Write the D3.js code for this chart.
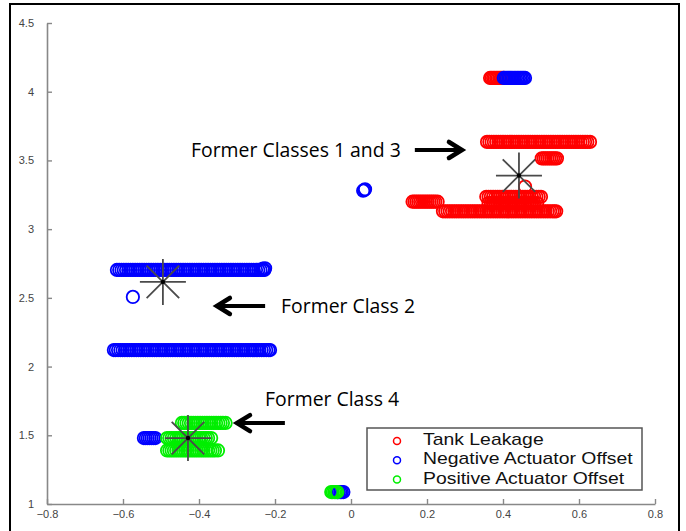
<!DOCTYPE html>
<html><head><meta charset="utf-8">
<script src="https://cdn.jsdelivr.net/npm/d3@7"></script>
<style>
html,body{margin:0;padding:0;background:#fff;}
svg{display:block;}
</style></head>
<body>
<svg id="chart" width="686" height="531"></svg>
<script>
// ---------- data ----------
const seriesNames = ["Tank Leakage", "Negative Actuator Offset", "Positive Actuator Offset"];
const seriesColors = ["#ff0000", "#0000ff", "#00ee00"];

const xTicks = [-0.8, -0.6, -0.4, -0.2, 0, 0.2, 0.4, 0.6, 0.8];
const yTicks = [1, 1.5, 2, 2.5, 3, 3.5, 4, 4.5];

function row(y, xs) { return xs.map(x => [x, y]); }

const tankLeakage = [].concat(
  row(4.10, [0.366,0.370,0.374,0.378,0.382,0.386,0.390,0.394,0.398,0.402]),
  row(3.635,[0.358,0.364,0.370,0.376,0.382,0.388,0.394,0.400,0.406,0.412,0.418,0.424,0.430,0.436,0.442,0.448,0.454,0.460,0.466,0.472,0.478,0.484,0.490,0.496,0.502,0.508,0.514,0.520,0.526,0.532,0.538,0.544,0.550,0.556,0.562,0.568,0.574,0.580,0.586,0.592,0.598,0.604,0.610,0.616,0.622,0.629]),
  row(3.515,[0.502,0.507,0.512,0.517,0.522,0.527,0.532,0.537,0.542]),
  row(3.31, [0.458]),
  row(3.20, [0.162,0.167,0.172,0.177,0.182,0.187,0.192,0.197,0.202,0.207,0.212,0.217,0.222,0.228]),
  row(3.235,[0.356,0.362,0.368,0.374,0.380,0.386,0.392,0.398,0.404,0.410,0.416,0.422,0.428,0.434,0.440,0.446,0.452,0.458,0.464,0.470,0.476,0.482,0.488,0.494,0.500]),
  row(3.19, [0.362,0.368,0.374,0.380,0.386,0.392,0.398,0.404,0.410,0.416,0.422,0.428,0.434,0.440,0.446,0.452,0.458,0.464,0.470,0.476,0.482,0.490]),
  row(3.13, [0.242,0.248,0.254,0.260,0.266,0.272,0.278,0.284,0.290,0.296,0.302,0.308,0.314,0.320,0.326,0.332,0.338,0.344,0.350,0.356,0.362,0.368,0.374,0.380,0.386,0.392,0.398,0.404,0.410,0.416,0.422,0.428,0.434,0.440,0.446,0.452,0.458,0.464,0.470,0.476,0.482,0.488,0.494,0.500,0.506,0.512,0.518,0.524,0.530,0.535,0.540])
);

const negativeOffset = [].concat(
  row(4.10, [0.402,0.406,0.410,0.414,0.418,0.422,0.426,0.430,0.434,0.438,0.442,0.446,0.450,0.454,0.458]),
  [[0.032,3.28],[0.035,3.285],[0.037,3.29]],
  row(2.703,[-0.616,-0.610,-0.604,-0.598,-0.592,-0.586,-0.580,-0.574,-0.568,-0.562,-0.556,-0.550,-0.544,-0.538,-0.532,-0.526,-0.520,-0.514,-0.508,-0.502,-0.496,-0.490,-0.484,-0.478,-0.472,-0.466,-0.460,-0.454,-0.448,-0.442,-0.436,-0.430,-0.424,-0.418,-0.412,-0.406,-0.400,-0.394,-0.388,-0.382,-0.376,-0.370,-0.364,-0.358,-0.352,-0.346,-0.340,-0.334,-0.328,-0.322,-0.316,-0.310,-0.304,-0.298,-0.292,-0.286,-0.280,-0.274,-0.268,-0.262,-0.256,-0.250,-0.244,-0.238,-0.232,-0.228]),
  [[-0.226,2.715],[-0.232,2.712]],
  [[-0.574,2.507]],
  row(2.12, [-0.624,-0.619,-0.613,-0.607,-0.601,-0.595,-0.589,-0.583,-0.577,-0.571,-0.565,-0.559,-0.553,-0.547,-0.541,-0.535,-0.529,-0.523,-0.517,-0.511,-0.505,-0.499,-0.493,-0.487,-0.481,-0.475,-0.469,-0.463,-0.457,-0.451,-0.445,-0.439,-0.433,-0.427,-0.421,-0.415,-0.409,-0.403,-0.397,-0.391,-0.385,-0.379,-0.373,-0.367,-0.361,-0.355,-0.349,-0.343,-0.337,-0.331,-0.325,-0.319,-0.313,-0.307,-0.301,-0.295,-0.289,-0.283,-0.277,-0.271,-0.265,-0.259,-0.253,-0.247,-0.241,-0.235,-0.229,-0.223,-0.217,-0.213]),
  row(1.48, [-0.545,-0.540,-0.535,-0.530,-0.525,-0.520,-0.515]),
  row(1.087,[-0.036,-0.032,-0.028,-0.024,-0.020])
);

const positiveOffset = [].concat(
  row(1.59, [-0.445,-0.439,-0.433,-0.427,-0.421,-0.415,-0.409,-0.403,-0.397,-0.391,-0.385,-0.379,-0.373,-0.367,-0.361,-0.355,-0.349,-0.343,-0.337,-0.330]),
  row(1.48, [-0.484,-0.478,-0.472,-0.466,-0.460,-0.454,-0.448,-0.442,-0.436,-0.430,-0.424,-0.418,-0.412,-0.406,-0.400,-0.394,-0.388,-0.382,-0.376,-0.368]),
  row(1.39, [-0.484,-0.478,-0.472,-0.466,-0.460,-0.454,-0.448,-0.442,-0.436,-0.430,-0.424,-0.418,-0.412,-0.406,-0.400,-0.394,-0.388,-0.382,-0.376,-0.370,-0.364,-0.358,-0.350]),
  row(1.087,[-0.052,-0.048,-0.044,-0.040,-0.036])
);

const centroids = [[0.442, 3.39], [-0.495, 2.616], [-0.429, 1.48]];

const annotations = [
  {text: "Former Classes 1 and 3", tx: -0.421, ty: 3.525, ax1: 0.168, ax2: 0.292, ay: 3.576},
  {text: "Former Class 2",         tx: -0.184, ty: 2.39,  ax1: -0.226, ax2: -0.353, ay: 2.441},
  {text: "Former Class 4",         tx: -0.226, ty: 1.713, ax1: -0.174, ax2: -0.300, ay: 1.589}
];

// ---------- drawing ----------
const svg = d3.select("#chart");
svg.append("rect").attr("x",0).attr("y",0).attr("width",686).attr("height",531).attr("fill","#fff");
svg.append("rect").attr("x",10).attr("y",4).attr("width",669).attr("height",540)
   .attr("fill","none").attr("stroke","#000").attr("stroke-width",2);

const x = d3.scaleLinear().domain([-0.8, 0.8]).range([47, 655]);
const y = d3.scaleLinear().domain([1, 4.5]).range([504, 23]);

const gx = svg.append("g").attr("transform", `translate(0,${y(1)})`)
  .call(d3.axisBottom(x).tickValues(xTicks).tickFormat(d3.format("")).tickSizeInner(-5).tickSizeOuter(0).tickPadding(6));
const gy = svg.append("g").attr("transform", `translate(${x(-0.8)},0)`)
  .call(d3.axisLeft(y).tickValues(yTicks).tickFormat(d3.format("")).tickSizeInner(-5).tickSizeOuter(0).tickPadding(13));
[gx, gy].forEach(g => {
  g.select(".domain").attr("stroke", "#888").attr("stroke-width", 1.6);
  g.selectAll(".tick line").attr("stroke", "#888").attr("stroke-width", 1.4);
  g.selectAll(".tick text").attr("fill", "#444").style("font-family", "'Liberation Sans', Arial, sans-serif").style("font-size", "11px");
});

const allSeries = [tankLeakage, negativeOffset, positiveOffset];
allSeries.forEach((pts, i) => {
  svg.append("g").selectAll("circle").data(pts).join("circle")
    .attr("cx", d => x(d[0])).attr("cy", d => y(d[1])).attr("r", 6.2)
    .attr("fill", "none").attr("stroke", seriesColors[i]).attr("stroke-width", 1.8);
});

// centroid stars
const starR = 23;
const starG = svg.append("g");
centroids.forEach(c => {
  const cx = x(c[0]), cy = y(c[1]);
  [0, 45, 90, 135].forEach(a => {
    const r = a * Math.PI / 180;
    starG.append("line")
      .attr("x1", cx - starR * Math.cos(r)).attr("y1", cy - starR * Math.sin(r))
      .attr("x2", cx + starR * Math.cos(r)).attr("y2", cy + starR * Math.sin(r))
      .attr("stroke", "#4a4a4a").attr("stroke-width", 1.8);
  });
  starG.append("circle").attr("cx", cx).attr("cy", cy).attr("r", 2.2).attr("fill", "#000");
});

// annotations
const annG = svg.append("g");
annotations.forEach(a => {
  annG.append("text").attr("x", x(a.tx)).attr("y", y(a.ty))
    .style("font-family", "'Open Sans', 'Noto Sans', sans-serif").style("font-size", "19.4px")
    .attr("fill", "#000").text(a.text);
  const x1 = x(a.ax1), x2 = x(a.ax2), yy = y(a.ay);
  const dir = Math.sign(x2 - x1);
  annG.append("line").attr("x1", x1).attr("y1", yy).attr("x2", x2 - dir * 3).attr("y2", yy)
    .attr("stroke", "#000").attr("stroke-width", 4);
  annG.append("path")
    .attr("d", `M${x2 - dir * 13},${yy - 8} L${x2},${yy} L${x2 - dir * 13},${yy + 8}`)
    .attr("fill", "none").attr("stroke", "#000").attr("stroke-width", 4.5)
    .attr("stroke-linejoin", "miter").attr("stroke-linecap", "round");
});

// legend
const lg = svg.append("g");
lg.append("rect").attr("x", 367).attr("y", 428).attr("width", 275).attr("height", 62)
  .attr("fill", "#fff").attr("stroke", "#555").attr("stroke-width", 1.5);
seriesNames.forEach((n, i) => {
  const yy = 441 + i * 19.3;
  lg.append("circle").attr("cx", 397).attr("cy", yy).attr("r", 3.5)
    .attr("fill", "none").attr("stroke", seriesColors[i]).attr("stroke-width", 1.5);
  const t = lg.append("text").attr("x", 423).attr("y", yy + 4)
    .style("font-family", "'Liberation Sans', Arial, sans-serif").style("font-size", "17px")
    .attr("fill", "#111").text(n);
  const w = t.node().getComputedTextLength();
  t.attr("textLength", w * 1.14).attr("lengthAdjust", "spacingAndGlyphs");
});
</script>
</body></html>
